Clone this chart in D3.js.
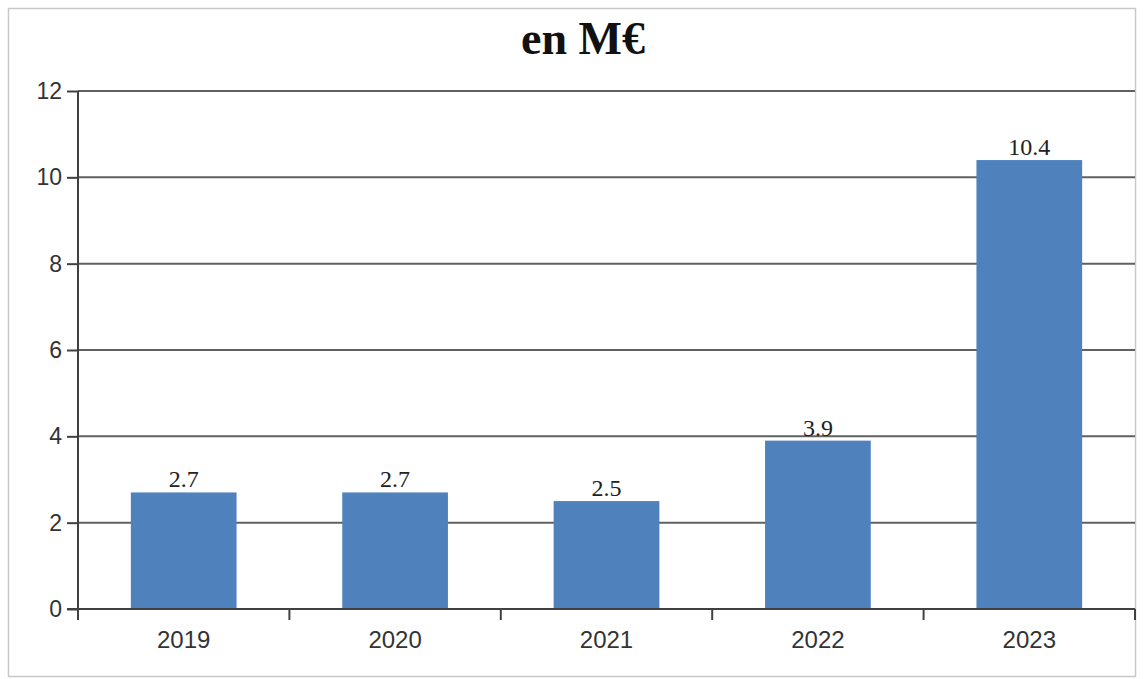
<!DOCTYPE html>
<html><head><meta charset="utf-8">
<script src="https://cdn.jsdelivr.net/npm/d3@7"></script>
<style>html,body{margin:0;padding:0;background:#fff;}svg{display:block;}</style>
</head><body>
<svg id="c" width="1146" height="679"></svg>
<script>
const categories = ["2019","2020","2021","2022","2023"];
const values = [2.7, 2.7, 2.5, 3.9, 10.4];
const yTicks = [0, 2, 4, 6, 8, 10, 12];
const title = "en M€";

const svg = d3.select("#c");
const m = {left: 78, right: 1135, top: 91, bottom: 609};

svg.append("rect").attr("x", 8.5).attr("y", 8.5).attr("width", 1127).attr("height", 668)
  .attr("fill", "#fff").attr("stroke", "#c8c8c8").attr("stroke-width", 1.5);

const x = d3.scaleBand().domain(categories).range([m.left, m.right]).paddingInner(0.5).paddingOuter(0.25);
const y = d3.scaleLinear().domain([0, 12]).range([m.bottom, m.top]);

// gridlines
svg.append("g").selectAll("line").data(yTicks.filter(d => d > 0)).join("line")
  .attr("x1", m.left).attr("x2", m.right)
  .attr("y1", d => y(d)).attr("y2", d => y(d))
  .attr("stroke", "#606060").attr("stroke-width", 2);

// bars
svg.append("g").selectAll("rect").data(values).join("rect")
  .attr("x", (d, i) => x(categories[i]))
  .attr("width", x.bandwidth())
  .attr("y", d => y(d))
  .attr("height", d => y(0) - y(d))
  .attr("fill", "#4F81BD");

// data labels
svg.append("g").selectAll("text").data(values).join("text")
  .attr("x", (d, i) => x(categories[i]) + x.bandwidth() / 2)
  .attr("y", d => y(d) - 5)
  .attr("text-anchor", "middle")
  .attr("font-family", "'Liberation Serif', 'DejaVu Serif', serif")
  .attr("font-size", 24).attr("fill", "#222")
  .text(d => d.toFixed(1));

// y axis
const yAxis = d3.axisLeft(y).tickValues(yTicks).tickSize(11).tickPadding(5).tickFormat(d3.format("d"));
const gy = svg.append("g").attr("transform", `translate(${m.left},0)`).call(yAxis);
gy.select(".domain").remove();
gy.selectAll(".tick line").attr("stroke", "#404040").attr("stroke-width", 2);
gy.selectAll(".tick text").attr("font-family", "'Liberation Sans', Arial, sans-serif")
  .attr("font-size", 23).attr("fill", "#333");
svg.append("line").attr("x1", m.left).attr("x2", m.left).attr("y1", m.top).attr("y2", m.bottom + 11)
  .attr("stroke", "#404040").attr("stroke-width", 2);

// x axis
const xb = d3.scalePoint().domain(d3.range(categories.length + 1)).range([m.left, m.right]);
svg.append("g").selectAll("line").data(d3.range(1, categories.length + 1)).join("line")
  .attr("x1", d => xb(d)).attr("x2", d => xb(d))
  .attr("y1", m.bottom).attr("y2", m.bottom + 11)
  .attr("stroke", "#404040").attr("stroke-width", 2);
svg.append("line").attr("x1", m.left - 11).attr("x2", m.right).attr("y1", m.bottom).attr("y2", m.bottom)
  .attr("stroke", "#404040").attr("stroke-width", 2);
svg.append("g").selectAll("text").data(categories).join("text")
  .attr("x", d => x(d) + x.bandwidth() / 2)
  .attr("y", 648)
  .attr("text-anchor", "middle")
  .attr("font-family", "'Liberation Sans', Arial, sans-serif")
  .attr("font-size", 24).attr("fill", "#333")
  .text(d => d);

// title
svg.append("text").attr("x", 583).attr("y", 54).attr("text-anchor", "middle")
  .attr("font-family", "'Liberation Serif', 'DejaVu Serif', serif")
  .attr("font-weight", "bold").attr("font-size", 46).attr("fill", "#111")
  .text(title);
</script>
</body></html>
